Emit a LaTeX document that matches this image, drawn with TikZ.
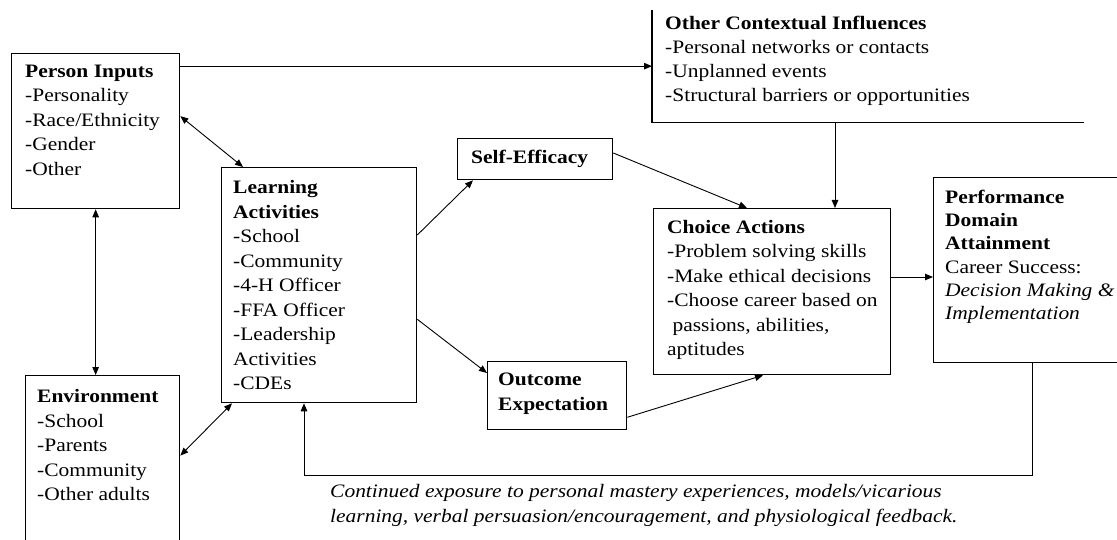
\documentclass[tikz,border=0pt]{standalone}
\usepackage{fontspec}
\setmainfont{Liberation Serif}[FakeStretch=1.13]
\usetikzlibrary{arrows.meta}

\tikzset{
  frame/.style={draw, line width=1.3pt, anchor=north west, inner sep=0pt},
  lbl/.style={anchor=north west, inner sep=0pt, align=left, font=\fontsize{19}{24.5}\selectfont},
  arr/.style={-{Triangle[length=8pt,width=6.5pt]}, line width=0.9pt},
  darr/.style={{Triangle[length=8pt,width=6.5pt]}-{Triangle[length=8pt,width=6.5pt]}, line width=0.9pt},
}

\begin{document}
\begin{tikzpicture}[x=1pt,y=-1pt]
  \useasboundingbox (0,0) rectangle (1117,540);
  \clip (0,0) rectangle (1117,540);

  % boxes
  \node[frame, minimum width=168pt, minimum height=155pt] (person) at (11,53) {};
  \node[frame, minimum width=154pt, minimum height=180pt] (envir) at (25,375) {};
  \node[frame, minimum width=195pt, minimum height=235pt] (learn) at (221,167) {};
  \node[frame, minimum width=155pt, minimum height=41pt] (self) at (457,138) {};
  \node[frame, minimum width=139pt, minimum height=68pt] (outcome) at (487,361) {};
  \node[frame, draw=none, minimum width=431pt, minimum height=111pt] (other) at (652,10) {};
  \node[frame, minimum width=237pt, minimum height=166pt] (choice) at (653,208) {};
  \node[frame, minimum width=200pt, minimum height=185pt] (perf) at (933,177) {};
  \draw[line width=1.3pt] (other.north west) |- (other.south east);

  % texts
  \node[lbl] (personT) at ([xshift=14pt,yshift=-11.4pt]person.north west)
    {\textbf{Person Inputs}\\-Personality\\-Race/Ethnicity\\-Gender\\-Other};
  \node[lbl] (envirT) at ([xshift=12pt,yshift=-14.4pt]envir.north west)
    {\textbf{Environment}\\-School\\-Parents\\-Community\\-Other adults};
  \node[lbl] (learnT) at ([xshift=12pt,yshift=-13.4pt]learn.north west)
    {\textbf{Learning}\\\textbf{Activities}\\-School\\-Community\\-4-H Officer\\-FFA Officer\\-Leadership\\Activities\\-CDEs};
  \node[lbl] (selfT) at ([xshift=14pt,yshift=-12pt]self.north west) {\textbf{Self-Efficacy}};
  \node[lbl] (outcomeT) at ([xshift=11pt,yshift=-12.1pt]outcome.north west)
    {\textbf{Outcome}\\\textbf{Expectation}};
  \node[lbl, font=\fontsize{19}{24}\selectfont] (otherT) at ([xshift=13pt,yshift=-6pt]other.north west)
    {\textbf{Other Contextual Influences}\\-Personal networks or contacts\\-Unplanned events\\-Structural barriers or opportunities};
  \node[lbl] (choiceT) at ([xshift=14pt,yshift=-12pt]choice.north west)
    {\textbf{Choice Actions}\\-Problem solving skills\\-Make ethical decisions\\-Choose career based on\\\ passions, abilities,\\aptitudes};
  \node[lbl, font=\fontsize{19}{23.2}\selectfont] (perfT) at ([xshift=12pt,yshift=-13pt]perf.north west)
    {\textbf{Performance}\\\textbf{Domain}\\\textbf{Attainment}\\Career Success:\\\textit{Decision Making \&}\\\textit{Implementation}};
  \node[lbl, font=\fontsize{19}{25}\selectfont\itshape] (note) at (330,484)
    {Continued exposure to personal mastery experiences, models/vicarious\\learning, verbal persuasion/encouragement, and physiological feedback.};

  % connectors
  \draw[arr] (person.east |- other.west) -- (other.west);
  \draw[darr] ([yshift=15pt]person.east) -- ([xshift=22pt]learn.north west);
  \draw[darr] (person.south) -- (person.south |- envir.north);
  \draw[darr] ([yshift=10pt]envir.east) -- ([xshift=11pt]learn.south west);
  \draw[arr] ([yshift=-68pt]learn.north east) -- ([xshift=16pt]self.south west);
  \draw[arr] ([yshift=84pt]learn.south east) -- ([yshift=-12pt]outcome.north west);
  \draw[arr] ([yshift=-15pt]self.north east) -- ([xshift=94pt]choice.north west);
  \draw[arr] ([yshift=13pt]outcome.south east) -- ([xshift=110pt]choice.south west);
  \coordinate (otherout) at ([xshift=183pt]other.south west);
  \draw[arr] (otherout) -- (otherout |- choice.north);
  \coordinate (perfin) at ([yshift=-100pt]perf.north west);
  \draw[arr] (choice.east |- perfin) -- (perfin);
  % feedback loop
  \draw[arr] ([xshift=99pt]perf.south west) -- ++(0,112) -| ([xshift=83pt]learn.south west);
\end{tikzpicture}
\end{document}
